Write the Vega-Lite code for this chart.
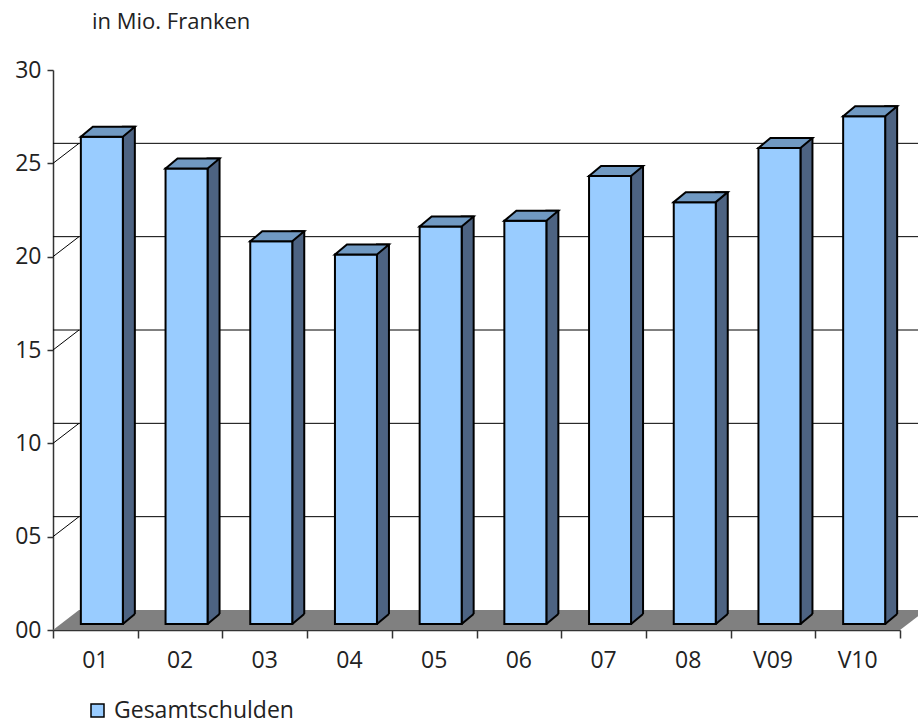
{
  "$schema": "https://vega.github.io/schema/vega-lite/v6.json",
  "autosize": {"type": "none"},
  "padding": {"left": 53, "top": 70, "right": 18, "bottom": 97},
  "width": 847,
  "height": 560,
  "background": "white",
  "config": {
    "font": "Open Sans",
    "view": {"stroke": null},
    "axis": {"labelFont": "Open Sans", "labelColor": "#222222", "labelFontSize": 23, "grid": false}
  },
  "title": {
    "text": "in Mio. Franken",
    "anchor": "start",
    "frame": "group",
    "dx": 39,
    "offset": 8,
    "baseline": "alphabetic",
    "fontSize": 22,
    "fontWeight": "normal",
    "color": "#222222",
    "font": "Open Sans"
  },
  "datasets": {
    "schulden": [
      {"jahr": "01", "wert": 26.1},
      {"jahr": "02", "wert": 24.4},
      {"jahr": "03", "wert": 20.5},
      {"jahr": "04", "wert": 19.8},
      {"jahr": "05", "wert": 21.3},
      {"jahr": "06", "wert": 21.6},
      {"jahr": "07", "wert": 24.0},
      {"jahr": "08", "wert": 22.6},
      {"jahr": "V09", "wert": 25.5},
      {"jahr": "V10", "wert": 27.2}
    ],
    "raster": [
      {"v": 5}, {"v": 10}, {"v": 15}, {"v": 20}, {"v": 25}
    ]
  },
  "layer": [
    {
      "description": "floor of the 3D plot",
      "data": {"name": "schulden"},
      "transform": [{"filter": "datum.jahr === '01'"}],
      "mark": {"type": "point", "shape": "M-423.5,0 L423.5,0 L449.5,-20 L-397.5,-20 Z", "size": 4, "filled": true, "fill": "#808080", "strokeWidth": 0, "opacity": 1},
      "encoding": {"y": {"datum": 0, "type": "quantitative"}}
    },
    {
      "description": "gridlines on the back wall",
      "data": {"name": "raster"},
      "mark": {"type": "rule", "color": "black", "strokeWidth": 1, "xOffset": 26, "x2Offset": 26, "yOffset": -20},
      "encoding": {"y": {"field": "v", "type": "quantitative"}}
    },
    {
      "description": "connectors from the value axis to the back wall",
      "data": {"name": "raster"},
      "mark": {"type": "rule", "color": "black", "strokeWidth": 1, "y2Offset": -20},
      "encoding": {
        "x": {"value": 0},
        "x2": {"value": 26},
        "y": {"field": "v", "type": "quantitative"},
        "y2": {"field": "v"}
      }
    },
    {
      "description": "top edge of the back wall",
      "mark": {"type": "rule", "color": "#888888", "strokeWidth": 2, "xOffset": 26, "x2Offset": 26, "yOffset": -20},
      "encoding": {"y": {"datum": 30, "type": "quantitative"}}
    },
    {
      "description": "left edge of the back wall and its top connector",
      "mark": {"type": "rule", "color": "#888888", "strokeWidth": 2, "yOffset": -20, "y2Offset": -20},
      "encoding": {
        "x": {"value": 26},
        "y": {"datum": 0, "type": "quantitative"},
        "y2": {"datum": 30}
      }
    },
    {
      "mark": {"type": "rule", "color": "#888888", "strokeWidth": 1.5, "y2Offset": -20},
      "encoding": {
        "x": {"value": 0},
        "x2": {"value": 26},
        "y": {"datum": 30, "type": "quantitative"},
        "y2": {"datum": 30}
      }
    },
    {
      "description": "side faces of the bars",
      "data": {"name": "schulden"},
      "mark": {"type": "bar", "width": 12, "xOffset": 33.5, "yOffset": -16, "y2Offset": -6, "fill": "#4D6382", "stroke": "black", "strokeWidth": 2},
      "encoding": {
        "x": {"field": "jahr", "type": "nominal"},
        "y": {"field": "wert", "type": "quantitative"},
        "y2": {"datum": 0}
      }
    },
    {
      "description": "floor patch under the slanted bottom of each side face",
      "data": {"name": "schulden"},
      "mark": {"type": "point", "shape": "M21,1 L33,-10 L36,-10 L36,3 L21,3 Z", "size": 4, "filled": true, "fill": "#808080", "strokeWidth": 0, "opacity": 1, "xOffset": 6.5, "yOffset": -6},
      "encoding": {
        "x": {"field": "jahr", "type": "nominal"},
        "y": {"datum": 0, "type": "quantitative"}
      }
    },
    {
      "data": {"name": "schulden"},
      "mark": {"type": "point", "shape": "M21,0 L33,-10", "size": 4, "filled": false, "stroke": "black", "strokeWidth": 2, "opacity": 1, "xOffset": 6.5, "yOffset": -6},
      "encoding": {
        "x": {"field": "jahr", "type": "nominal"},
        "y": {"datum": 0, "type": "quantitative"}
      }
    },
    {
      "description": "front faces of the bars",
      "data": {"name": "schulden"},
      "mark": {"type": "bar", "width": 42, "xOffset": 6.5, "yOffset": -6, "y2Offset": -6, "stroke": "black", "strokeWidth": 2},
      "encoding": {
        "x": {
          "field": "jahr",
          "type": "nominal",
          "title": null,
          "scale": {"paddingInner": 0, "paddingOuter": 0},
          "axis": {
            "orient": "bottom",
            "domainColor": "#333333",
            "domainWidth": 1.5,
            "tickColor": "#333333",
            "tickWidth": 1.5,
            "tickSize": 8,
            "tickBand": "extent",
            "labels": false
          }
        },
        "y": {
          "field": "wert",
          "type": "quantitative",
          "title": null,
          "scale": {"domain": [0, 30], "nice": false},
          "axis": {
            "values": [0, 5, 10, 15, 20, 25, 30],
            "format": "02d",
            "domainColor": "#333333",
            "domainWidth": 1.5,
            "tickColor": "#333333",
            "tickWidth": 1.5,
            "tickSize": 6,
            "labelPadding": 6
          }
        },
        "y2": {"datum": 0},
        "color": {
          "datum": "Gesamtschulden",
          "scale": {"range": ["#99CCFF"]},
          "legend": {
            "orient": "none",
            "legendX": 33,
            "legendY": 629,
            "title": null,
            "symbolType": "square",
            "symbolSize": 169,
            "symbolStrokeColor": "black",
            "symbolStrokeWidth": 1.5,
            "labelFont": "Open Sans",
            "labelFontSize": 23,
            "labelColor": "#222222",
            "labelOffset": 5,
            "labelLimit": 0
          }
        }
      }
    },
    {
      "description": "top faces of the bars",
      "data": {"name": "schulden"},
      "mark": {"type": "point", "shape": "M-21,0 L-9,-10 L33,-10 L21,0 Z", "size": 4, "filled": true, "fill": "#7099C2", "stroke": "black", "strokeWidth": 2, "opacity": 1, "strokeJoin": "miter", "xOffset": 6.5, "yOffset": -6},
      "encoding": {
        "x": {"field": "jahr", "type": "nominal"},
        "y": {"field": "wert", "type": "quantitative"}
      }
    },
    {
      "description": "category labels under each band",
      "data": {"name": "schulden"},
      "mark": {"type": "text", "font": "Open Sans", "fontSize": 23, "color": "#222222", "baseline": "middle", "align": "center", "dy": 31},
      "encoding": {
        "x": {"field": "jahr", "type": "nominal"},
        "y": {"datum": 0, "type": "quantitative"},
        "text": {"field": "jahr"}
      }
    }
  ]
}
